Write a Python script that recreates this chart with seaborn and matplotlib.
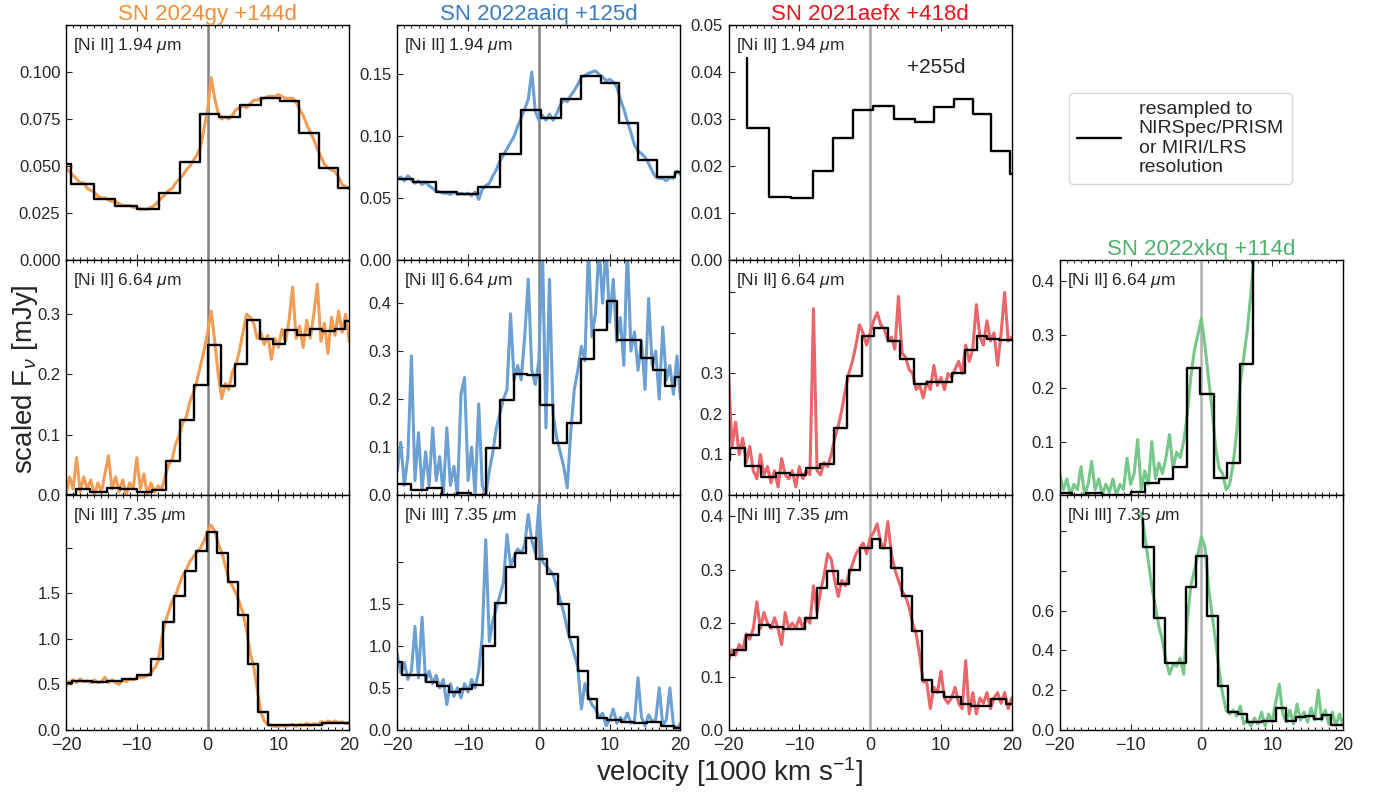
import numpy as np
import matplotlib
matplotlib.use("Agg")
import matplotlib.pyplot as plt
from matplotlib.ticker import MultipleLocator, FixedLocator
from matplotlib.lines import Line2D
import seaborn as sns

# ---------------- data ----------------
# spectra sampled every 500 km/s (velocity in 1000 km/s); start velocity given per panel
spec_step = 0.5

# SN 2024gy [Ni II] 1.94 um  (start -20)
gy_194 = [0.049, 0.047, 0.045, 0.043, 0.041, 0.041, 0.038, 0.037, 0.036, 0.034,
          0.033, 0.033, 0.032, 0.031, 0.031, 0.030, 0.029, 0.029, 0.029, 0.028,
          0.028, 0.027, 0.027, 0.027, 0.028, 0.029, 0.031, 0.033, 0.035, 0.037,
          0.038, 0.041, 0.043, 0.045, 0.048, 0.050, 0.053, 0.056, 0.060, 0.070,
          0.080, 0.097, 0.086, 0.078, 0.075, 0.076, 0.075, 0.077, 0.080, 0.081,
          0.082, 0.081, 0.083, 0.085, 0.085, 0.086, 0.086, 0.087, 0.087, 0.087,
          0.088, 0.087, 0.086, 0.086, 0.086, 0.084, 0.080, 0.077, 0.072, 0.068,
          0.064, 0.059, 0.055, 0.051, 0.049, 0.048, 0.047, 0.044, 0.040, 0.039,
          0.038]
# SN 2022aaiq [Ni II] 1.94 um (start -20)
aaiq_194 = [0.066, 0.067, 0.064, 0.068, 0.065, 0.062, 0.064, 0.061, 0.063, 0.060,
            0.058, 0.056, 0.055, 0.054, 0.054, 0.053, 0.055, 0.053, 0.054, 0.053,
            0.054, 0.052, 0.055, 0.049, 0.057, 0.060, 0.062, 0.068, 0.073, 0.080,
            0.085, 0.090, 0.095, 0.100, 0.108, 0.115, 0.122, 0.130, 0.152, 0.120,
            0.113, 0.117, 0.113, 0.118, 0.113, 0.118, 0.125, 0.130, 0.128, 0.133,
            0.137, 0.142, 0.148, 0.149, 0.151, 0.152, 0.153, 0.150, 0.148, 0.145,
            0.146, 0.144, 0.140, 0.130, 0.122, 0.112, 0.103, 0.093, 0.088, 0.086,
            0.083, 0.078, 0.072, 0.067, 0.066, 0.066, 0.064, 0.067, 0.066, 0.072,
            0.069]
# SN 2024gy [Ni II] 6.64 um (start -20)
gy_664 = [0.00, 0.03, 0.01, 0.062, 0.005, 0.03, 0.01, 0.025, 0.00, 0.02,
          0.005, 0.035, 0.065, 0.01, 0.03, 0.005, 0.025, 0.00, 0.02, 0.01,
          0.062, 0.01, 0.035, 0.00, 0.02, 0.005, 0.015, 0.01, 0.03, 0.05,
          0.06, 0.085, 0.10, 0.12, 0.13, 0.155, 0.17, 0.19, 0.215, 0.24,
          0.27, 0.305, 0.255, 0.20, 0.16, 0.185, 0.175, 0.205, 0.215, 0.24,
          0.27, 0.30, 0.295, 0.285, 0.26, 0.27, 0.25, 0.265, 0.225, 0.26,
          0.245, 0.275, 0.255, 0.29, 0.345, 0.26, 0.28, 0.245, 0.29, 0.26,
          0.30, 0.35, 0.255, 0.285, 0.235, 0.295, 0.265, 0.305, 0.27, 0.30,
          0.255]
# SN 2022aaiq [Ni II] 6.64 um (start -20)
aaiq_664 = [0.05, 0.11, 0.02, 0.08, 0.29, 0.03, 0.13, 0.01, 0.09, 0.02,
            0.14, 0.03, 0.08, 0.00, 0.14, 0.02, 0.06, 0.00, 0.21, 0.245,
            0.03, 0.10, 0.00, 0.19, 0.02, 0.00, 0.05, 0.09, 0.14, 0.17,
            0.20, 0.22, 0.378, 0.24, 0.27, 0.24, 0.33, 0.45, 0.26, 0.23,
            0.28, 0.52, 0.14, 0.45, 0.17, 0.12, 0.09, 0.06, 0.015, 0.13,
            0.22, 0.26, 0.31, 0.28, 0.52, 0.33, 0.38, 0.52, 0.40, 0.52,
            0.36, 0.45, 0.32, 0.37, 0.27, 0.52, 0.30, 0.34, 0.26, 0.32,
            0.22, 0.41, 0.27, 0.30, 0.20, 0.35, 0.24, 0.27, 0.21, 0.29,
            0.20]
# SN 2021aefx [Ni II] 6.64 um (start -20)
aefx_664 = [0.30, 0.12, 0.18, 0.10, 0.14, 0.08, 0.12, 0.06, 0.04, 0.10,
            0.05, 0.07, 0.03, 0.06, 0.02, 0.09, 0.05, 0.04, 0.06, 0.02,
            0.07, 0.04, 0.06, 0.05, 0.46, 0.06, 0.05, 0.08, 0.07, 0.10,
            0.14, 0.17, 0.21, 0.26, 0.30, 0.33, 0.37, 0.42, 0.40, 0.37,
            0.40, 0.43, 0.45, 0.42, 0.41, 0.38, 0.39, 0.36, 0.49, 0.35,
            0.34, 0.31, 0.30, 0.26, 0.27, 0.24, 0.28, 0.26, 0.32, 0.27,
            0.29, 0.26, 0.30, 0.29, 0.31, 0.33, 0.30, 0.37, 0.33, 0.36,
            0.47, 0.39, 0.37, 0.43, 0.38, 0.40, 0.32, 0.40, 0.50, 0.38,
            0.39]
# SN 2022xkq [Ni II] 6.64 um (start -20, leaves the panel at +7.5)
xkq_664 = [0.04, 0.01, 0.03, 0.00, 0.02, 0.01, 0.053, 0.00, 0.02, 0.063,
           0.01, 0.03, 0.00, 0.02, 0.005, 0.03, 0.00, 0.02, 0.01, 0.069,
           0.02, 0.04, 0.104, 0.01, 0.045, 0.02, 0.10, 0.03, 0.06, 0.04,
           0.07, 0.113, 0.05, 0.08, 0.07, 0.10, 0.15, 0.22, 0.27, 0.30,
           0.33, 0.28, 0.22, 0.16, 0.09, 0.05, 0.04, 0.01, 0.02, 0.06,
           0.12, 0.21, 0.26, 0.31, 0.38, 0.46]
# SN 2024gy [Ni III] 7.35 um (start -20)
gy_735 = [0.48, 0.53, 0.55, 0.52, 0.56, 0.53, 0.54, 0.52, 0.55, 0.52,
          0.53, 0.58, 0.52, 0.55, 0.52, 0.50, 0.55, 0.53, 0.56, 0.55,
          0.57, 0.58, 0.58, 0.60, 0.63, 0.68, 0.75, 1.00, 1.18, 1.30,
          1.42, 1.48, 1.60, 1.70, 1.76, 1.85, 1.90, 1.95, 2.00, 2.08,
          2.18, 2.25, 2.18, 2.05, 1.95, 1.80, 1.65, 1.58, 1.50, 1.40,
          1.28, 1.10, 0.85, 0.70, 0.45, 0.20, 0.10, 0.06, 0.05, 0.04,
          0.04, 0.05, 0.04, 0.05, 0.06, 0.04, 0.06, 0.05, 0.07, 0.05,
          0.07, 0.06, 0.09, 0.07, 0.10, 0.08, 0.10, 0.08, 0.09, 0.07,
          0.08]
# SN 2022aaiq [Ni III] 7.35 um (start -20)
aaiq_735 = [0.90, 0.68, 0.80, 0.60, 0.70, 1.23, 0.62, 1.34, 0.58, 0.70,
            0.55, 0.65, 0.50, 0.60, 0.30, 0.55, 0.40, 0.50, 0.38, 0.55,
            0.45, 0.60, 0.50, 0.70, 1.10, 2.26, 1.05, 1.30, 1.45, 1.60,
            1.75, 2.32, 1.95, 2.05, 2.15, 2.10, 2.20, 2.56, 2.25, 2.10,
            2.68, 2.00, 1.95, 1.90, 1.85, 1.70, 1.55, 1.40, 1.20, 1.05,
            0.90, 0.75, 0.25, 0.55, 0.40, 0.30, 0.25, 0.15, 0.20, 0.05,
            0.12, 0.25, 0.08, 0.15, 0.10, 0.20, 0.08, 0.10, 0.62, 0.15,
            0.05, 0.18, 0.10, 0.12, 0.50, 0.05, 0.12, 0.50, 0.06, 0.02,
            0.08]
# SN 2021aefx [Ni III] 7.35 um (start -20)
aefx_735 = [0.13, 0.15, 0.14, 0.16, 0.15, 0.18, 0.17, 0.19, 0.24, 0.19,
            0.22, 0.20, 0.19, 0.21, 0.19, 0.16, 0.22, 0.19, 0.20, 0.19,
            0.21, 0.19, 0.21, 0.20, 0.27, 0.22, 0.26, 0.29, 0.33, 0.32,
            0.28, 0.25, 0.28, 0.27, 0.29, 0.31, 0.33, 0.34, 0.35, 0.33,
            0.36, 0.37, 0.386, 0.35, 0.34, 0.39, 0.33, 0.30, 0.28, 0.26,
            0.25, 0.23, 0.20, 0.18, 0.14, 0.09, 0.09, 0.04, 0.08, 0.07,
            0.11, 0.06, 0.05, 0.06, 0.08, 0.05, 0.04, 0.13, 0.03, 0.07,
            0.03, 0.06, 0.05, 0.07, 0.04, 0.06, 0.07, 0.05, 0.07, 0.04,
            0.06]
# SN 2022xkq [Ni III] 7.35 um (start -8.5)
xkq_735 = [1.09, 0.98, 0.85, 0.72, 0.62, 0.52, 0.45, 0.35, 0.28, 0.33,
           0.32, 0.36, 0.28, 0.55, 0.72, 0.80, 0.88, 0.97, 0.92, 0.72,
           0.58, 0.45, 0.30, 0.18, 0.10, 0.08, 0.10, 0.07, 0.12, 0.03,
           0.05, 0.02, 0.06, 0.03, 0.09, 0.02, 0.08, 0.04, 0.14, 0.23,
           0.08, 0.04, 0.10, 0.03, 0.13, 0.05, 0.09, 0.04, 0.11, 0.05,
           0.20, 0.05, 0.10, 0.03, 0.09, 0.02, 0.08, 0.03]

# resampled (binned) spectra: bin edges and flux per bin
gy_194_edges = [-20, -19.25, -16.09, -13.04, -9.98, -6.92, -3.95, -1.04, 1.55, 4.61,
                7.58, 10.26, 12.85, 15.67, 18.35, 20]
gy_194_bins = [0.0508, 0.0404, 0.0327, 0.0288, 0.0271, 0.0358, 0.0522, 0.0775, 0.0761,
               0.0823, 0.0864, 0.0846, 0.0673, 0.049, 0.0384]
aaiq_194_edges = [-20, -17.74, -14.59, -11.53, -8.56, -5.55, -2.59, 0.24, 3.06, 5.88,
                  8.71, 11.29, 14.02, 16.71, 19.29, 20]
aaiq_194_bins = [0.0655, 0.0628, 0.0552, 0.0536, 0.0593, 0.0861, 0.1213, 0.1151, 0.1305,
                 0.1489, 0.143, 0.111, 0.0807, 0.0672, 0.0715]
aefx_194_edges = [-17.35, -17.35, -14.28, -11.21, -8.13, -5.2, -2.36, 0.38, 3.40, 6.38,
                  9.08, 11.82, 14.52, 17.12, 19.76, 20]
aefx_194_bins = [0.043, 0.028, 0.0134, 0.0132, 0.0189, 0.0259, 0.0319, 0.0327, 0.030,
                 0.0293, 0.0325, 0.0343, 0.0311, 0.0232, 0.0184]
gy_664_edges = [-20, -18.54, -16.56, -14.21, -12.33, -9.98, -7.86, -5.88, -3.86, -1.98,
                0.0, 1.88, 3.81, 5.55, 7.34, 9.22, 10.96, 12.61, 14.4, 16.14, 17.93,
                19.44, 20]
gy_664_bins = [0.0, 0.0106, 0.005, 0.0117, 0.0094, 0.0056, 0.0083, 0.0556, 0.125, 0.1828,
               0.2494, 0.1817, 0.2178, 0.29, 0.2594, 0.2511, 0.2744, 0.2661, 0.2761,
               0.2717, 0.2761, 0.2889]
aaiq_664_edges = [-20, -18.02, -15.86, -13.65, -11.53, -9.65, -7.44, -5.55, -3.53, -1.65,
                  0.14, 2.02, 4.0, 5.88, 7.76, 9.65, 11.06, 12.85, 14.49, 16.14, 17.88,
                  19.29, 20]
aaiq_664_bins = [0.0237, 0.0104, 0.0153, 0.0, 0.005, 0.0, 0.0974, 0.1976, 0.2518, 0.2497,
                 0.1878, 0.1078, 0.151, 0.2831, 0.3443, 0.4049, 0.3235, 0.3235, 0.2859,
                 0.2609, 0.2275, 0.2463]
aefx_664_edges = [-20, -19.86, -17.73, -15.46, -13.24, -11.35, -9.08, -7.09, -5.11, -3.21,
                  -1.18, 0.57, 2.46, 4.26, 6.24, 8.04, 9.83, 11.58, 13.38, 15.13, 16.55,
                  18.2, 20]
aefx_664_bins = [0.087, 0.1154, 0.0717, 0.0445, 0.0536, 0.0486, 0.066, 0.0758, 0.1665,
                 0.2943, 0.3916, 0.4122, 0.3809, 0.3355, 0.2737, 0.2795, 0.2795, 0.3001,
                 0.3578, 0.3916, 0.385, 0.3817]
xkq_664_edges = [-20, -18.26, -16.24, -14.02, -9.93, -7.91, -5.93, -4.0, -2.02, -0.14,
                 1.74, 3.62, 5.41, 7.25]
xkq_664_bins = [0.003, 0.0, 0.004, 0.0, 0.006, 0.023, 0.030, 0.053, 0.2386, 0.1884,
                0.0314, 0.0597, 0.2462, 0.9]
gy_735_edges = [-20, -19.15, -16.33, -14.21, -12.09, -9.98, -8.0, -6.35, -4.8, -3.25,
                -1.65, -0.09, 1.32, 2.87, 4.24, 5.65, 7.06, 8.52, 10.49, 12.38, 14.26,
                16.14, 17.79, 20]
gy_735_bins = [0.52, 0.54, 0.53, 0.54, 0.56, 0.60, 0.78, 1.19, 1.47, 1.75, 1.97, 2.17,
               1.94, 1.63, 1.26, 0.73, 0.20, 0.06, 0.05, 0.05, 0.06, 0.08, 0.075]
aaiq_735_edges = [-20, -19.29, -16.0, -14.35, -12.71, -11.15, -9.51, -7.91, -6.26, -4.61,
                  -3.44, -1.88, -0.47, 1.18, 2.68, 4.24, 5.51, 6.92, 8.24, 9.65, 11.53,
                  13.41, 15.29, 17.18, 19.06, 20]
aaiq_735_bins = [0.81, 0.65, 0.57, 0.52, 0.45, 0.49, 0.54, 1.0, 1.51, 1.94, 2.1, 2.28,
                 2.03, 1.85, 1.5, 1.1, 0.70, 0.372, 0.14, 0.12, 0.10, 0.08, 0.09, 0.052,
                 0.02]
aefx_735_edges = [-20, -19.29, -17.49, -15.74, -14.09, -12.29, -9.22, -7.57, -6.05, -4.49,
                  -2.93, -1.42, 0.24, 1.42, 2.98, 4.49, 5.91, 7.33, 8.75, 10.4, 12.77,
                  14.18, 17.02, 19.15, 20]
aefx_735_bins = [0.14, 0.149, 0.178, 0.196, 0.193, 0.19, 0.21, 0.266, 0.297, 0.273, 0.30,
                 0.34, 0.358, 0.34, 0.303, 0.251, 0.185, 0.093, 0.072, 0.0615, 0.048,
                 0.0458, 0.058, 0.048]
xkq_735_edges = [-8.28, -8.28, -6.73, -5.18, -2.16, -0.75, 0.8, 2.31, 3.72, 5.13, 6.45,
                 8.56, 10.54, 11.95, 13.36, 14.68, 15.86, 17.04, 18.31, 20]
xkq_735_bins = [1.06, 0.918, 0.564, 0.338, 0.718, 0.872, 0.573, 0.219, 0.089, 0.082,
                0.039, 0.046, 0.111, 0.043, 0.063, 0.072, 0.055, 0.077, 0.026]

sn_titles = ["SN 2024gy +144d", "SN 2022aaiq +125d", "SN 2021aefx +418d", "SN 2022xkq +114d"]
title_colors = ["#f08e3a", "#3b7cc0", "#e8141c", "#4db36c"]
line_colors = ["#f29d55", "#6c9fd2", "#ea666b", "#77c78b"]
vline_colors = ["#808080", "#808080", "#a8a8a8", "#b0b0b0"]
line_labels = ["[Ni II] 1.94 $\\mu$m", "[Ni II] 6.64 $\\mu$m", "[Ni III] 7.35 $\\mu$m"]

# (row, col, spectrum, start, edges, bins, ylim top, yticks, yticklabels)
panels = [
    (0, 0, gy_194, -20, gy_194_edges, gy_194_bins, 0.125,
     [0, 0.025, 0.05, 0.075, 0.1], ["0.000", "0.025", "0.050", "0.075", "0.100"]),
    (0, 1, aaiq_194, -20, aaiq_194_edges, aaiq_194_bins, 0.19,
     [0, 0.05, 0.1, 0.15], ["0.00", "0.05", "0.10", "0.15"]),
    (0, 2, None, -20, aefx_194_edges, aefx_194_bins, 0.05,
     [0, 0.01, 0.02, 0.03, 0.04, 0.05], ["0.00", "0.01", "0.02", "0.03", "0.04", "0.05"]),
    (1, 0, gy_664, -20, gy_664_edges, gy_664_bins, 0.39,
     [0, 0.1, 0.2, 0.3], ["0.0", "0.1", "0.2", "0.3"]),
    (1, 1, aaiq_664, -20, aaiq_664_edges, aaiq_664_bins, 0.49,
     [0, 0.1, 0.2, 0.3, 0.4], ["0.0", "0.1", "0.2", "0.3", "0.4"]),
    (1, 2, aefx_664, -20, aefx_664_edges, aefx_664_bins, 0.58,
     [0, 0.1, 0.2, 0.3, 0.4, 0.5], ["0.0", "0.1", "0.2", "0.3", "", ""]),
    (1, 3, xkq_664, -20, xkq_664_edges, xkq_664_bins, 0.44,
     [0, 0.1, 0.2, 0.3, 0.4], ["0.0", "0.1", "0.2", "0.3", "0.4"]),
    (2, 0, gy_735, -20, gy_735_edges, gy_735_bins, 2.58,
     [0, 0.5, 1.0, 1.5, 2.0], ["0.0", "0.5", "1.0", "1.5", ""]),
    (2, 1, aaiq_735, -20, aaiq_735_edges, aaiq_735_bins, 2.79,
     [0, 0.5, 1.0, 1.5, 2.0], ["0.0", "0.5", "1.0", "1.5", ""]),
    (2, 2, aefx_735, -20, aefx_735_edges, aefx_735_bins, 0.44,
     [0, 0.1, 0.2, 0.3, 0.4], ["0.0", "0.1", "0.2", "0.3", "0.4"]),
    (2, 3, xkq_735, -8.5, xkq_735_edges, xkq_735_bins, 1.18,
     [0, 0.2, 0.4, 0.6, 0.8, 1.0], ["0.0", "0.2", "0.4", "0.6", "", ""]),
]

# ---------------- style ----------------
sns.set_theme(style="ticks")
plt.rcParams['font.family'] = ['Liberation Sans', 'DejaVu Sans']
plt.rcParams['mathtext.fontset'] = 'custom'
plt.rcParams['mathtext.rm'] = 'Liberation Sans'
plt.rcParams['mathtext.it'] = 'Liberation Sans:italic'
plt.rcParams['mathtext.bf'] = 'Liberation Sans:bold'
plt.rcParams['axes.edgecolor'] = 'black'
plt.rcParams['axes.linewidth'] = 1.0

fig = plt.figure(figsize=(13.77, 7.98), dpi=100)
gs = fig.add_gridspec(3, 4, left=66 / 1377, right=1343 / 1377, top=1 - 25 / 798,
                      bottom=1 - 730 / 798, wspace=48 / 283, hspace=0)

for (r, c, spec, start, edges, bins, ytop, yt, ytl) in panels:
    ax = fig.add_subplot(gs[r, c])
    ax.axvline(0, color=vline_colors[c], lw=1.8, zorder=1)
    if spec is not None:
        vel = start + spec_step * np.arange(len(spec))
        sns.lineplot(x=vel, y=spec, ax=ax, color=line_colors[c], lw=2.2,
                     estimator=None, sort=False, legend=False, zorder=2)
    sy = list(bins) + [bins[-1]] if len(bins) == len(edges) - 1 else list(bins)
    sns.lineplot(x=edges, y=sy, ax=ax, color='black', lw=1.7, drawstyle='steps-post',
                 estimator=None, sort=False, legend=False, zorder=3)
    ax.set_xlim(-20, 20)
    ax.set_ylim(0, ytop)
    ax.set_xticks([-20, -10, 0, 10, 20])
    ax.xaxis.set_minor_locator(MultipleLocator(1))
    ax.yaxis.set_major_locator(FixedLocator(yt))
    ax.set_yticklabels(ytl)
    ax.tick_params(axis='x', which='both', direction='in', top=True, bottom=True,
                   labelsize=13, width=0.8, pad=5)
    ax.tick_params(axis='x', which='major', length=4.5)
    ax.tick_params(axis='x', which='minor', length=2.5)
    ax.tick_params(axis='y', which='major', direction='in', length=4, width=0.8,
                   labelsize=12, right=False, pad=4)
    if r < 2:
        ax.tick_params(axis='x', labelbottom=False)
    ax.set_xlabel('')
    ax.set_ylabel('')
    ax.text(0.025, 0.955, line_labels[r], transform=ax.transAxes, ha='left', va='top',
            fontsize=12.5)
    for sp in ax.spines.values():
        sp.set_visible(True)
        sp.set_color('black')
    if r == 0 and c < 3:
        ax.set_title(sn_titles[c], color=title_colors[c], fontsize=16, pad=3)
    if r == 1 and c == 3:
        ax.set_title(sn_titles[3], color=title_colors[3], fontsize=16, pad=3)
    if r == 0 and c == 2:
        ax.text(0.63, 0.82, "+255d", transform=ax.transAxes, ha='left', va='center',
                fontsize=15)

handle = Line2D([0], [0], color='black', lw=1.7)
fig.legend([handle], ["resampled to\nNIRSpec/PRISM\nor MIRI/LRS\nresolution"],
           loc='upper left', bbox_to_anchor=(1059 / 1377, 1 - 83 / 798),
           fontsize=14, frameon=True, handlelength=2.3, borderpad=0.4,
           labelspacing=0.2, handletextpad=0.9)

fig.text(0.53, 0.032, "velocity [1000 km s$^{-1}$]", ha='center', va='center', fontsize=20)
fig.text(0.018, 0.525, "scaled F$_\\nu$ [mJy]", ha='center', va='center', fontsize=20,
         rotation=90)

fig.savefig("out.png", dpi=100)
